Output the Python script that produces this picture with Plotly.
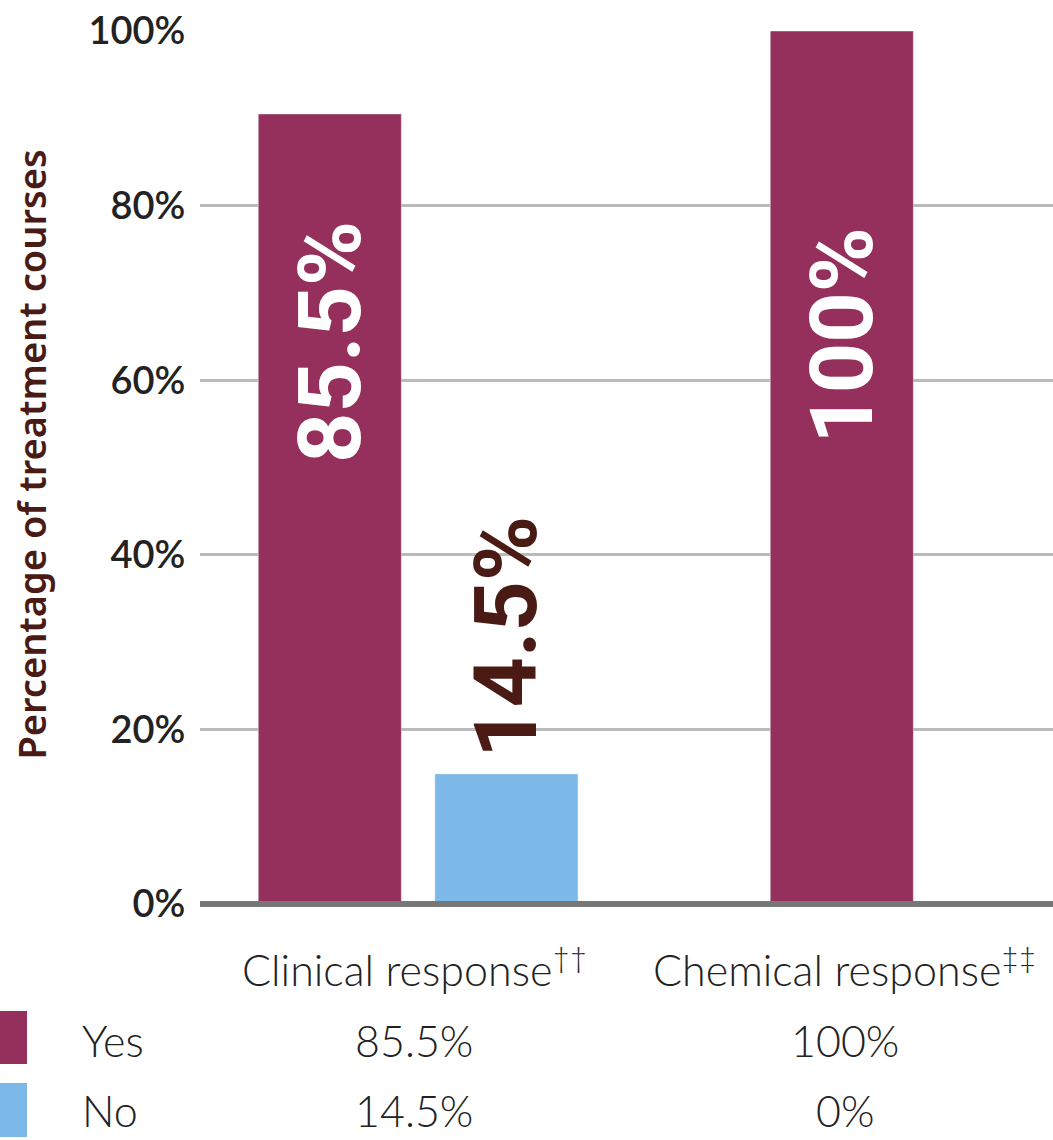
import plotly.graph_objects as go

# DATA
groups = ["Clinical", "Chemical"]
group_labels = ["Clinical response<sup>††</sup>", "Chemical response<sup>‡‡</sup>"]
yes_heights = [90.5, 100]   # bar heights as drawn in the picture
no_heights = [14.9, 0]
yes_text = ["85.5%", "100%"]
no_text = ["14.5%", "0%"]
y_ticks = [0, 20, 40, 60, 80, 100]
y_ticklabels = ["0%", "20%", "40%", "60%", "80%", "100%"]

MAROON = "#952f5b"
BLUE = "#7db9e8"
BROWN = "#4a1a14"

fig = go.Figure()
fig.add_trace(go.Bar(x=groups, y=yes_heights, name="Yes", marker_color=MAROON,
                     hoverinfo="skip"))
fig.add_trace(go.Bar(x=groups, y=no_heights, name="No", marker_color=BLUE,
                     hoverinfo="skip"))

fig.update_layout(
    width=1053, height=1140,
    margin=dict(l=200, r=0, t=31, b=236),
    plot_bgcolor="white", paper_bgcolor="white",
    barmode="group", bargap=0.31, bargroupgap=0.19,
    showlegend=False,
    font=dict(family="Lato, Noto Sans, sans-serif", color="#222"),
)
fig.update_xaxes(range=[-0.426, 1.24], showticklabels=False, showgrid=False,
                 showline=False, ticks="")
fig.update_yaxes(range=[0, 100], tickvals=y_ticks, ticktext=y_ticklabels,
                 showgrid=True, gridcolor="#bbbbbb", gridwidth=2.5,
                 zeroline=False,
                 ticks="outside", ticklen=6, tickcolor="rgba(0,0,0,0)",
                 tickfont=dict(size=38, color="#222", weight=600))

# baseline drawn over the bars (paper refs so it is not clipped)
fig.add_shape(type="line", xref="paper", yref="paper", x0=0, x1=1, y0=0, y1=0,
              line=dict(color="#777777", width=6), layer="above")

ann = []
# y-axis title
ann.append(dict(text="Percentage of treatment courses", xref="paper", yref="paper",
                x=-0.198, y=0.515, textangle=-90, showarrow=False,
                xanchor="center", yanchor="middle",
                font=dict(family="Noto Sans, sans-serif", size=38, color=BROWN,
                          weight=600)))

# rotated value labels on bars
big_font = dict(family="Roboto, Lato, sans-serif", size=88, color="white",
                weight="bold")

ann.append(dict(text=yes_text[0], x=groups[0], y=64.4, xshift=-88,
                textangle=-90, showarrow=False, font=big_font))
ann.append(dict(text=yes_text[1], x=groups[1], y=65.1, xshift=-88,
                textangle=-90, showarrow=False, font=big_font))
ann.append(dict(text=no_text[0], x=groups[0], y=30.6, xshift=88,
                textangle=-90, showarrow=False, font={**big_font, "color": BROWN}))

# bottom table
col_x = [0.251, 0.756]
table_font = dict(size=43, color="#222", weight=300)
for cx, lab, yt, nt in zip(col_x, group_labels, yes_text, no_text):
    for txt, ty in [(lab, -0.072), (yt, -0.156), (nt, -0.236)]:
        ann.append(dict(text=txt, xref="paper", yref="paper", x=cx, y=ty,
                        xanchor="center", yanchor="middle",
                        showarrow=False, font=table_font))
ann.append(dict(text="Yes", xref="paper", yref="paper", x=-0.1407, y=-0.156,
                xanchor="left", yanchor="middle", showarrow=False, font=table_font))
ann.append(dict(text="No", xref="paper", yref="paper", x=-0.1407, y=-0.236,
                xanchor="left", yanchor="middle", showarrow=False, font=table_font))
fig.update_layout(annotations=ann)

# legend swatches
fig.add_shape(type="rect", xref="paper", yref="paper", x0=-0.2345, x1=-0.2028,
              y0=-0.1833, y1=-0.1226, fillcolor=MAROON, line_width=0)
fig.add_shape(type="rect", xref="paper", yref="paper", x0=-0.2345, x1=-0.2028,
              y0=-0.267, y1=-0.205, fillcolor=BLUE, line_width=0)

fig.write_html("out.html", config={"displayModeBar": False},
               post_script="document.body.style.margin='0';")
